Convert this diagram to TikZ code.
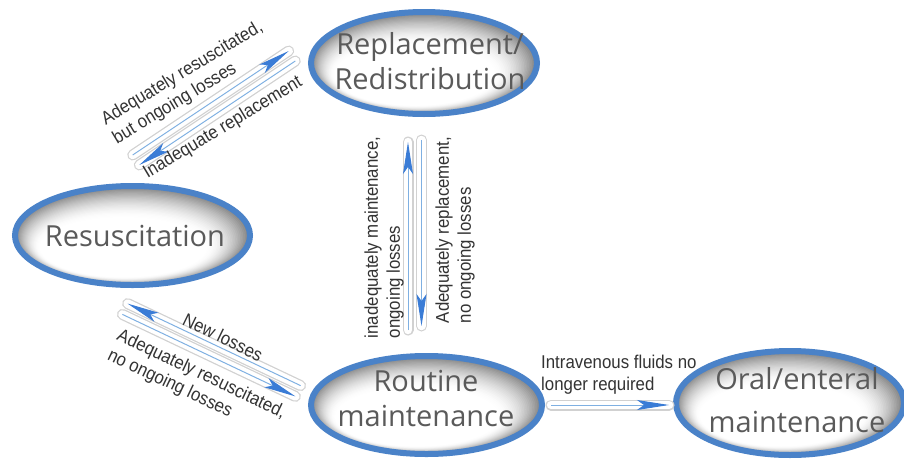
\documentclass[tikz,border=0pt]{standalone}
\usepackage{fontspec}
\setmainfont{Liberation Sans}[FakeStretch=0.91]
\newfontfamily\ellfont{Open Sans}
\usetikzlibrary{arrows.meta,shapes.geometric}
\definecolor{ringblue}{HTML}{4A82C8}
\definecolor{tipblue}{HTML}{3A7CD6}
\definecolor{lineblue}{HTML}{7FB0E2}
\definecolor{labgray}{HTML}{333333}
\definecolor{elltext}{HTML}{5A5A5A}
% soft inner shadow for an ellipse: centre x, centre y, x radius, y radius
\newcommand\ellgrad[4]{%
  \begin{scope}
    \clip (#1,#2) ellipse [x radius=#3, y radius=#4];
    \foreach \k in {0,...,26}{%
      \pgfmathsetmacro\cc{50*(1-\k/26)^1.7}%
      \fill[black!\cc] ({#1-0.35*\k},{#2+0.45*\k}) ellipse [x radius={#3*(1-0.011*\k)}, y radius={#4*(1-0.015*\k)}];
    }
  \end{scope}}
\begin{document}
\begin{tikzpicture}[x=1pt,y=-1pt,
  state/.style={ellipse, draw=ringblue, line width=6pt, inner sep=0pt},
  statetext/.style={font=\ellfont\fontsize{29}{35}\selectfont, text=elltext, align=center, inner sep=0pt},
  lab/.style={font=\fontsize{18.5}{22}\selectfont, text=labgray, align=left, inner sep=0pt},
  flow/.style={preaction={draw=black!18, line width=11pt, line cap=round, arrows=-},
               preaction={draw=white, line width=8.5pt, line cap=round, arrows=-},
               draw=lineblue, line width=1pt,
               -{Stealth[length=32pt,width=10pt,inset=7pt,color=tipblue]}},
]
\useasboundingbox (0,0) rectangle (904,458);
\fill[white] (0,0) rectangle (904,458);

% state fills
\ellgrad{424}{63}{113}{51}
\ellgrad{132.5}{235.5}{117.5}{49.5}
\ellgrad{426.5}{405}{115.5}{49}
\ellgrad{790}{403}{114}{52}

% states
\node[state, minimum width=226pt, minimum height=102pt] (rep) at (424,63) {};
\node[state, minimum width=235pt, minimum height=99pt] (res) at (132.5,235.5) {};
\node[state, minimum width=231pt, minimum height=98pt] (rou) at (426.5,405) {};
\node[state, minimum width=228pt, minimum height=104pt] (ora) at (790,403) {};

\node[statetext] (repT) at (430,61.5) {Replacement/\\Redistribution};
\node[statetext, anchor=base] (resT) at (135,246) {Resuscitation};
\node[statetext] (rouT) at (426,398.5) {Routine\\maintenance};
\node[statetext] (oraT) at (797,400.5) {Oral/enteral\\[8pt]maintenance};

% arrow end points
\coordinate (a1s) at (132.7,155);   \coordinate (a1e) at (288.7,51);
\coordinate (a2s) at (295.3,61);    \coordinate (a2e) at (139.3,165);
\coordinate (b1s) at (408,330);     \coordinate (b1e) at (408,142);
\coordinate (b2s) at (421.5,140);   \coordinate (b2e) at (421.5,326);
\coordinate (c1s) at (300.6,385.6); \coordinate (c1e) at (127.6,303.6);
\coordinate (c2s) at (122.4,314.4); \coordinate (c2e) at (295.4,396.4);
\coordinate (d1s) at (551,405);     \coordinate (d1e) at (669,405);

\draw[flow] (a1s) -- (a1e);
\draw[flow] (a2s) -- (a2e);
\draw[flow] (b1s) -- (b1e);
\draw[flow] (b2s) -- (b2e);
\draw[flow] (c1s) -- (c1e);
\draw[flow] (c2s) -- (c2e);
\draw[flow] (d1s) -- (d1e);

% labels
\node[lab, rotate=31] (l1) at (188,83) {Adequately resuscitated,\\but ongoing losses};
\node[lab, rotate=31] (l2) at (223,128) {Inadequate replacement};
\node[lab, rotate=90] (l3) at (384,237.5) {inadequately maintenance,\\ongoing losses};
\node[lab, rotate=90] (l4) at (455,230) {Adequately replacement,\\no ongoing losses};
\node[lab, rotate=-26] (l5) at (223,337) {New losses};
\node[lab, rotate=-25.5] (l6) at (196.5,384.5) {Adequately resuscitated,\\no ongoing losses};
\node[lab, anchor=west] (l7) at (541,375) {Intravenous fluids no\\longer required};
\end{tikzpicture}
\end{document}
